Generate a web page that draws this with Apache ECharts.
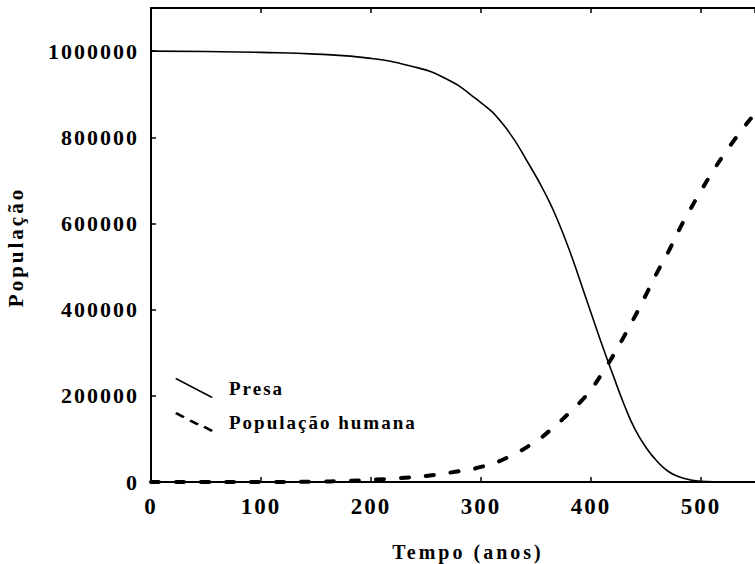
<!DOCTYPE html>
<html>
<head>
<meta charset="utf-8">
<script src="https://cdn.jsdelivr.net/npm/echarts@6/dist/echarts.min.js"></script>
<style>
  html, body { margin: 0; padding: 0; background: #fff; }
  #main { width: 755px; height: 564px; }
  #main text { letter-spacing: 2px; }
  #main text[style*="20px"], #main text[style*="21px"] { letter-spacing: 3px; }
</style>
</head>
<body>
<div id="main"></div>
<script>
// Data
const seriesNames = ['Presa', 'População humana'];
const xTicks = [0, 100, 200, 300, 400, 500];
const yTicks = [0, 200000, 400000, 600000, 800000, 1000000];

const presaYears = [0, 50, 100, 150, 200, 235, 265, 295, 320, 345, 360, 370, 380, 390, 400, 410, 420, 430, 440, 450, 460, 470, 480, 490, 500, 515, 530, 576];
const presaValues = [1000000, 999000, 997000, 993000, 983000, 966000, 940000, 890000, 830000, 731000, 661000, 605000, 540000, 467000, 392000, 318000, 248000, 180000, 122000, 80000, 48000, 25000, 12000, 5000, 1500, 300, 0, 0];

const humanYears = [0, 50, 100, 150, 175, 200, 225, 250, 275, 300, 325, 350, 365, 380, 390, 400, 410, 420, 430, 440, 450, 460, 470, 480, 490, 500, 510, 520, 530, 540, 550, 576];
const humanValues = [0, 0, 0, 800, 2500, 5000, 9000, 14000, 23000, 35000, 58000, 95000, 125000, 160000, 185000, 215000, 252000, 293000, 338000, 385000, 435000, 486000, 533000, 585000, 632000, 676000, 718000, 757000, 793000, 827000, 858000, 935000];

const zip = (xs, ys) => xs.map((x, i) => [x, ys[i]]);

const FONT = 'Liberation Serif';
const xMax = 549;

const solidIcon = 'path://M0,0.9 L1.6,0 L38,19.1 L36.4,20 Z';
const dashIcon = 'path://M0,2 L1.8,0 L9.8,4.2 L8,6.2 Z M14.2,9.4 L16,7.4 L24,11.6 L22.2,13.6 Z M28.2,15.8 L30,13.8 L38,18 L36.2,20 Z';

const chart = echarts.init(document.getElementById('main'), null, { renderer: 'svg' });
chart.setOption({
  animation: false,
  backgroundColor: '#ffffff',
  grid: { left: 151, top: 8, bottom: 82, right: 0, outerBoundsMode: 'none', containLabel: false },
  legend: {
    orient: 'vertical',
    left: 175,
    top: 378,
    padding: 0,
    itemWidth: 38,
    itemHeight: 20,
    itemGap: 14,
    data: [
      { name: seriesNames[0], icon: solidIcon },
      { name: seriesNames[1], icon: dashIcon }
    ],
    itemStyle: { color: '#000', borderWidth: 0 },
    lineStyle: { width: 0 },
    textStyle: { fontFamily: FONT, fontWeight: 'bold', fontSize: 19, color: '#000', padding: [0, 0, 0, 11] }
  },
  xAxis: [{
    type: 'value',
    min: 0, max: xMax, interval: 100,
    name: 'Tempo (anos)',
    nameLocation: 'middle',
    nameGap: 60,
    nameTextStyle: { fontFamily: FONT, fontWeight: 'bold', fontSize: 20, color: '#000', padding: [0, 0, 0, 30] },
    axisLine: { show: true, lineStyle: { color: '#000', width: 2 } },
    axisTick: { show: true, inside: true, length: 5, lineStyle: { color: '#000', width: 1.5 } },
    axisLabel: {
      fontFamily: FONT, fontWeight: 'bold', fontSize: 23, color: '#000', margin: 13,
      showMaxLabel: false,
      formatter: v => (xTicks.indexOf(v) >= 0 ? String(v) : '')
    },
    splitLine: { show: false }
  }, {
    type: 'value',
    position: 'top',
    min: 0, max: xMax, interval: 100,
    axisLine: { show: true, lineStyle: { color: '#000', width: 2 } },
    axisTick: { show: true, inside: true, length: 5, lineStyle: { color: '#000', width: 1.5 } },
    axisLabel: { show: false },
    splitLine: { show: false }
  }],
  yAxis: {
    type: 'value',
    min: 0, max: 1100000, interval: 200000,
    name: 'População',
    nameLocation: 'middle',
    nameGap: 125,
    nameRotate: 90,
    nameTextStyle: { fontFamily: FONT, fontWeight: 'bold', fontSize: 21, color: '#000', padding: [0, 4, 0, 0] },
    axisLine: { show: true, lineStyle: { color: '#000', width: 2 } },
    axisTick: { show: true, inside: true, length: 5, lineStyle: { color: '#000', width: 1.5 } },
    axisLabel: {
      fontFamily: FONT, fontWeight: 'bold', fontSize: 22, color: '#000', margin: 12,
      showMaxLabel: false,
      formatter: v => (yTicks.indexOf(v) >= 0 ? String(v) : '')
    },
    splitLine: { show: false }
  },
  series: [{
    name: seriesNames[0],
    type: 'line',
    smooth: 0.5,
    showSymbol: false,
    data: zip(presaYears, presaValues),
    itemStyle: { color: '#000' },
    lineStyle: { color: '#000', width: 1.6 }
  }, {
    name: seriesNames[1],
    type: 'line',
    smooth: 0.5,
    showSymbol: false,
    data: zip(humanYears, humanValues),
    itemStyle: { color: '#000' },
    lineStyle: { color: '#000', width: 4, type: [8, 17], cap: 'round' }
  }]
});
</script>
</body>
</html>
